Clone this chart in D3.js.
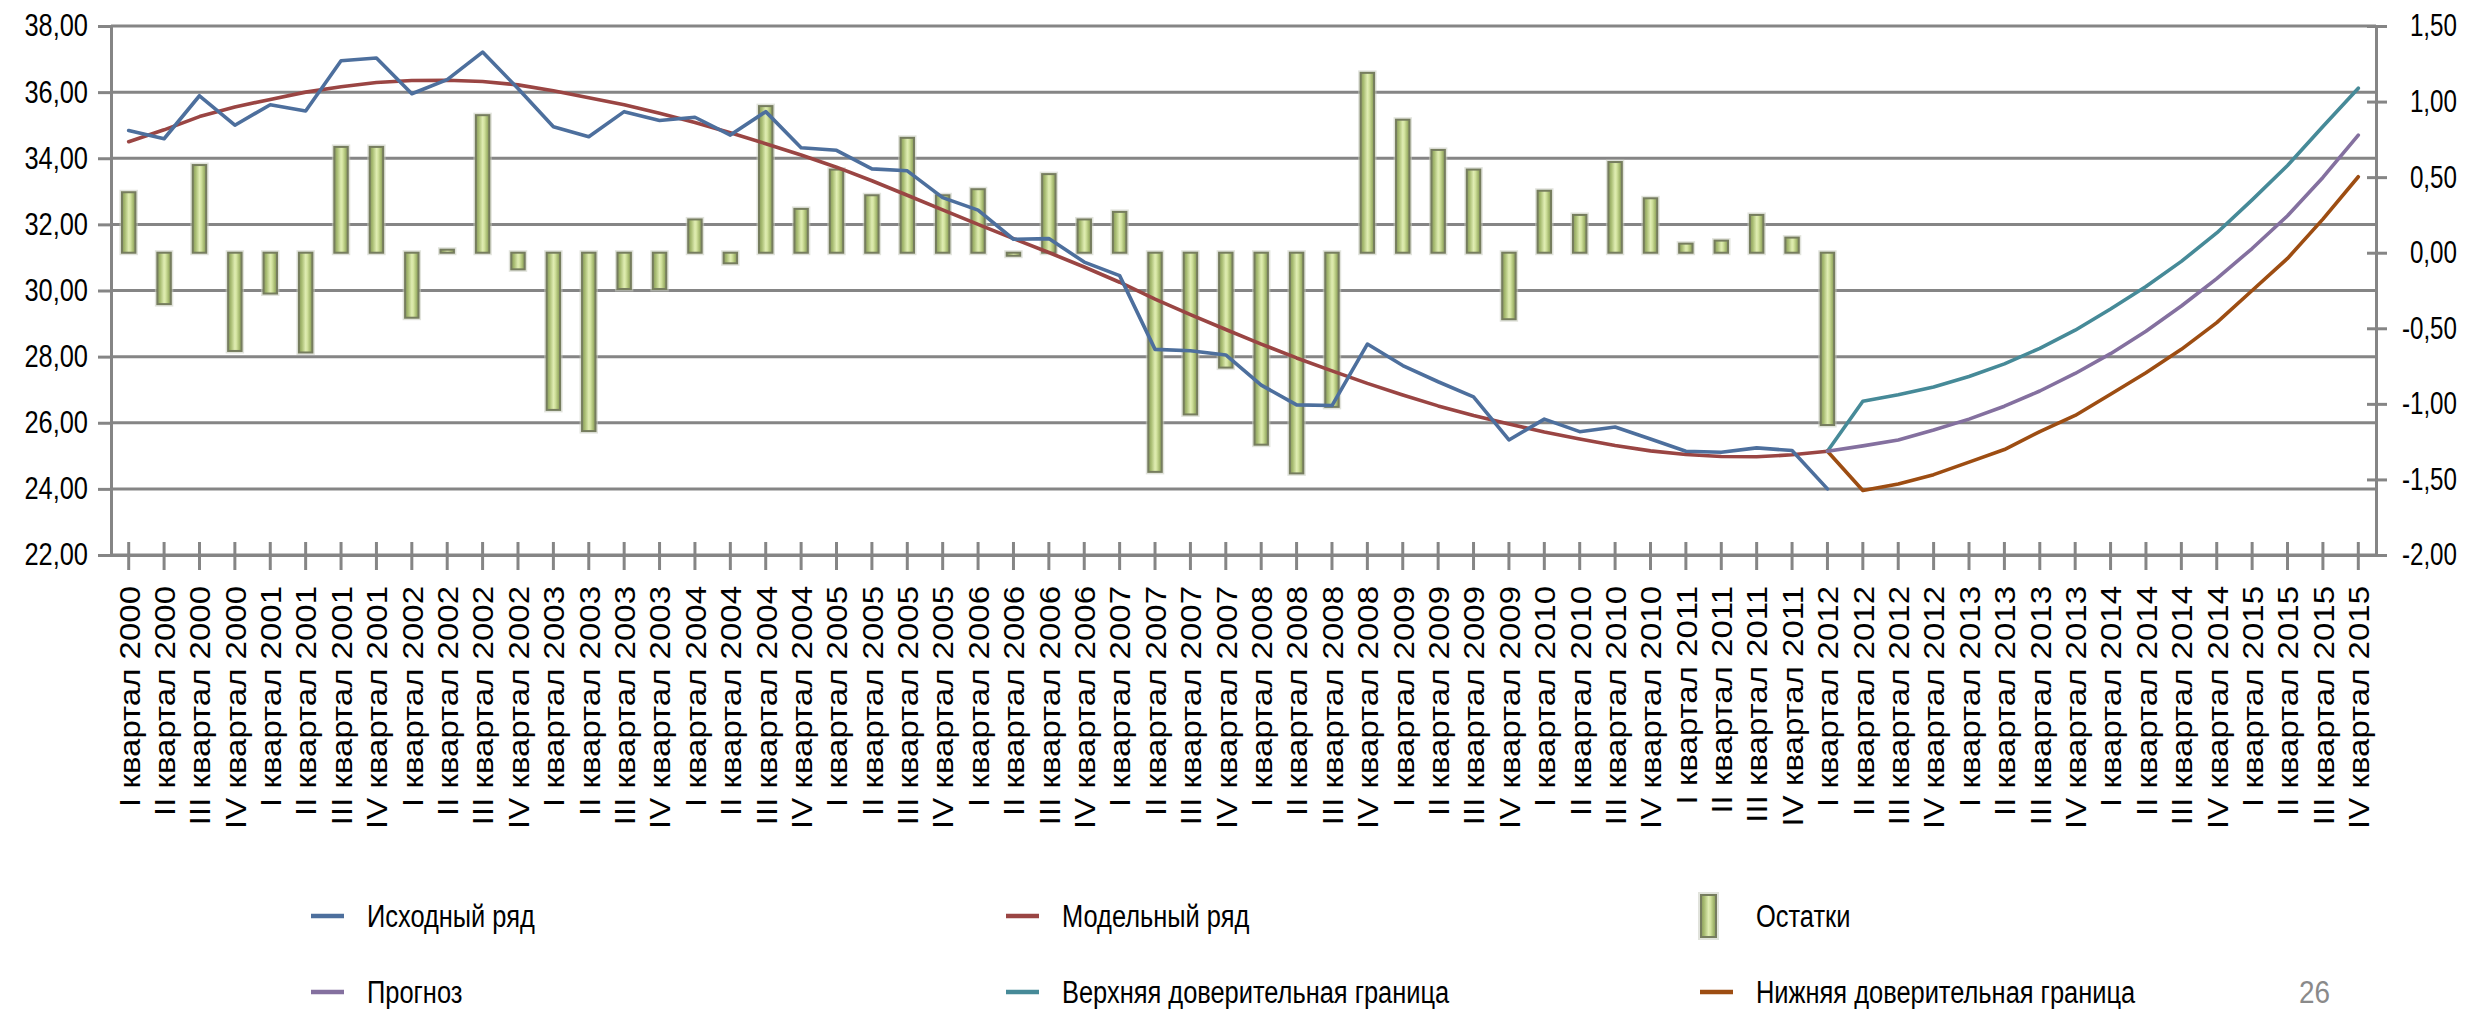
<!DOCTYPE html>
<html>
<head>
<meta charset="utf-8">
<script src="https://cdn.jsdelivr.net/npm/d3@7"></script>
<style>
  html, body { margin: 0; padding: 0; background: #ffffff; }
  svg { display: block; }
  text { font-family: "Liberation Sans", Arial, sans-serif; fill: #000; }
</style>
</head>
<body>
<svg id="chart" width="2476" height="1009"></svg>
<script>
// ---- categories: quarters 2000–2015 ----
const quarterNames = ["I", "II", "III", "IV"];
const years = [2000, 2001, 2002, 2003, 2004, 2005, 2006, 2007,
               2008, 2009, 2010, 2011, 2012, 2013, 2014, 2015];
const categories = years.flatMap(y => quarterNames.map(q => `${q} квартал ${y}`));

// ---- observed series (I кв. 2000 – I кв. 2012) ----
const original = [
  34.84, 34.59, 35.89, 35.00, 35.62, 35.43, 36.95, 37.03, 35.95, 36.38, 37.21, 36.11, 34.95,
  34.65, 35.41, 35.14, 35.24, 34.70, 35.41, 34.32, 34.24, 33.68, 33.62, 32.81, 32.43, 31.55,
  31.57, 30.86, 30.45, 28.22, 28.18, 28.05, 27.14, 26.54, 26.52, 28.38, 27.73, 27.24,
  26.78, 25.48, 26.11, 25.73, 25.87, 25.51, 25.14, 25.11, 25.24, 25.16, 24.00
];

// ---- fitted trend ----
const model = [
  34.50, 34.86, 35.26, 35.55, 35.78, 36.00, 36.16, 36.29, 36.35, 36.36, 36.32, 36.22, 36.04,
  35.83, 35.62, 35.36, 35.08, 34.77, 34.44, 34.10, 33.73, 33.32, 32.88, 32.44, 32.00, 31.57,
  31.15, 30.71, 30.25, 29.74, 29.27, 28.82, 28.38, 27.96, 27.57, 27.19, 26.84, 26.51,
  26.22, 25.96, 25.72, 25.51, 25.31, 25.15, 25.04, 24.98, 24.97, 25.03, 25.14
];

// ---- residuals (secondary axis) ----
const residuals = [
  0.40, -0.34, 0.58, -0.65, -0.27, -0.66, 0.70, 0.70, -0.43, 0.02, 0.91, -0.11, -1.04,
  -1.18, -0.24, -0.24, 0.22, -0.07, 0.97, 0.29, 0.55, 0.38, 0.76, 0.38, 0.42, -0.02,
  0.52, 0.22, 0.27, -1.45, -1.07, -0.76, -1.27, -1.46, -1.02, 1.19, 0.88, 0.68,
  0.55, -0.44, 0.41, 0.25, 0.60, 0.36, 0.06, 0.08, 0.25, 0.10, -1.14
];

// ---- forecast with confidence band (I кв. 2012 – IV кв. 2015) ----
const forecastStart = 48;
const forecast = [25.14, 25.30, 25.48, 25.78, 26.11, 26.50, 26.96, 27.49, 28.09, 28.77, 29.53, 30.36, 31.27, 32.26, 33.42, 34.70];
const upperBound = [25.14, 26.65, 26.85, 27.08, 27.40, 27.78, 28.25, 28.80, 29.44, 30.12, 30.88, 31.74, 32.74, 33.78, 34.96, 36.12];
const lowerBound = [25.14, 23.95, 24.15, 24.43, 24.81, 25.19, 25.73, 26.22, 26.86, 27.51, 28.22, 29.03, 30.00, 30.97, 32.16, 33.44];

// ---- axis ticks ----
const leftTicks = [22, 24, 26, 28, 30, 32, 34, 36, 38];
const rightTicks = [-2, -1.5, -1, -0.5, 0, 0.5, 1, 1.5];

const legendItems = [
  { label: "Исходный ряд", color: "#4d6f9d", type: "line", col: 0, row: 0 },
  { label: "Модельный ряд", color: "#9a4543", type: "line", col: 1, row: 0 },
  { label: "Остатки", color: null, type: "bar", col: 2, row: 0 },
  { label: "Прогноз", color: "#84709f", type: "line", col: 0, row: 1 },
  { label: "Верхняя доверительная граница", color: "#468a98", type: "line", col: 1, row: 1 },
  { label: "Нижняя доверительная граница", color: "#9d4d12", type: "line", col: 2, row: 1 }
];

// ---------------------------------------------------------------
const svg = d3.select("#chart");
const plot = { left: 111, right: 2376, top: 26, bottom: 555 };
const gridColor = "#858585";
const squeeze = 0.82;   // narrow face for horizontal text

const x = d3.scaleBand().domain(categories).range([plot.left, plot.right]).padding(0);
const cx = i => x(categories[i]) + x.bandwidth() / 2;
const yL = d3.scaleLinear().domain([22, 38]).range([plot.bottom, plot.top]);
const yR = d3.scaleLinear().domain([-2, 1.5]).range([plot.bottom, plot.top]);

const fmt = d3.formatLocale({ decimal: ",", thousands: " ", grouping: [3], currency: ["", ""], minus: "-" }).format(".2f");

function squish(sel, k) {
  sel.each(function () {
    const L = this.getComputedTextLength();
    this.setAttribute("textLength", (L * k).toFixed(1));
    this.setAttribute("lengthAdjust", "spacingAndGlyphs");
  });
}

// gradient for residual columns
const defs = svg.append("defs");
const grad = defs.append("linearGradient").attr("id", "barFill")
  .attr("x1", "0%").attr("x2", "100%").attr("y1", "0%").attr("y2", "0%");
[[0, "#87985a"], [0.22, "#a9bd73"], [0.5, "#dfecb2"], [0.62, "#d4e4a0"], [0.85, "#a2b66c"], [1, "#86975a"]]
  .forEach(([o, c]) => grad.append("stop").attr("offset", o).attr("stop-color", c));

// horizontal gridlines
svg.append("g").selectAll("line").data(leftTicks).join("line")
  .attr("x1", plot.left).attr("x2", plot.right)
  .attr("y1", d => yL(d)).attr("y2", d => yL(d))
  .attr("stroke", gridColor).attr("stroke-width", 3);

// left axis
const gLeft = svg.append("g").attr("transform", `translate(${plot.left},0)`)
  .call(d3.axisLeft(yL).tickValues(leftTicks).tickFormat(fmt).tickSize(13).tickPadding(10));
gLeft.select(".domain").attr("stroke", gridColor).attr("stroke-width", 3);
gLeft.selectAll(".tick line").attr("stroke", gridColor).attr("stroke-width", 3);
gLeft.selectAll(".tick text").attr("font-size", 31).attr("fill", "#000")
  .attr("font-family", "Liberation Sans, Arial, sans-serif").call(squish, squeeze);

// right axis (residual scale)
const gRight = svg.append("g").attr("transform", `translate(${plot.right},0)`)
  .call(d3.axisRight(yR).tickValues(rightTicks).tickFormat(fmt).tickSizeInner(9).tickSizeOuter(0).tickPadding(0));
gRight.select(".domain").attr("stroke", gridColor).attr("stroke-width", 3);
gRight.selectAll(".tick line").attr("x1", -9).attr("x2", 11).attr("stroke", gridColor).attr("stroke-width", 3);
gRight.selectAll(".tick text").attr("font-size", 31).attr("fill", "#000")
  .attr("font-family", "Liberation Sans, Arial, sans-serif")
  .attr("text-anchor", "end").attr("x", 81).call(squish, 0.78);

// bottom axis with category labels
const gBottom = svg.append("g").attr("transform", `translate(0,${plot.bottom})`)
  .call(d3.axisBottom(x).tickSizeInner(15).tickSizeOuter(0).tickPadding(0));
gBottom.select(".domain").attr("stroke", gridColor).attr("stroke-width", 3);
gBottom.selectAll(".tick line").attr("y1", -13).attr("y2", 15).attr("stroke", gridColor).attr("stroke-width", 3);
gBottom.selectAll(".tick text")
  .attr("font-size", 30).attr("fill", "#000")
  .attr("font-family", "Liberation Sans, Arial, sans-serif")
  .attr("text-anchor", "end")
  .attr("transform", "rotate(-90)")
  .attr("x", -31).attr("y", 0).attr("dy", "0.36em")
  .call(squish, 1.1);

// residual columns
const barW = x.bandwidth() * 0.38;
const gBars = svg.append("g");
gBars.selectAll("rect.halo").data(residuals).join("rect").attr("class", "halo")
  .attr("x", (d, i) => cx(i) - barW / 2 - 2.5)
  .attr("y", d => Math.min(yR(d), yR(0)) - 2.5)
  .attr("width", barW + 5)
  .attr("height", d => Math.abs(yR(d) - yR(0)) + 5)
  .attr("fill", "#c9ccc0").attr("opacity", 0.55);
gBars.selectAll("rect.bar").data(residuals).join("rect").attr("class", "bar")
  .attr("x", (d, i) => cx(i) - barW / 2)
  .attr("y", d => Math.min(yR(d), yR(0)))
  .attr("width", barW)
  .attr("height", d => Math.max(2, Math.abs(yR(d) - yR(0))))
  .attr("fill", "url(#barFill)")
  .attr("stroke", "#767d5e").attr("stroke-width", 2);

// lines
function drawLine(values, offset, color) {
  const line = d3.line().x((d, i) => cx(i + offset)).y(d => yL(d));
  svg.append("path").datum(values).attr("d", line)
    .attr("fill", "none").attr("stroke", color).attr("stroke-width", 3.6)
    .attr("stroke-linejoin", "round").attr("stroke-linecap", "round");
}
drawLine(model, 0, "#9a4543");
drawLine(original, 0, "#4d6f9d");
drawLine(upperBound, forecastStart, "#468a98");
drawLine(lowerBound, forecastStart, "#9d4d12");
drawLine(forecast, forecastStart, "#84709f");

// legend
const legendCols = [311, 1006, 1700];
const legendRows = [916, 992];
const gLegend = svg.append("g");
legendItems.forEach(item => {
  const lx = legendCols[item.col], ly = legendRows[item.row];
  if (item.type === "line") {
    gLegend.append("line").attr("x1", lx).attr("x2", lx + 33).attr("y1", ly).attr("y2", ly)
      .attr("stroke", item.color).attr("stroke-width", 4.5);
  } else {
    gLegend.append("rect").attr("x", lx - 2).attr("y", ly - 24).attr("width", 21).attr("height", 48)
      .attr("fill", "#c9ccc0").attr("opacity", 0.55);
    gLegend.append("rect").attr("x", lx + 1).attr("y", ly - 21).attr("width", 15).attr("height", 42)
      .attr("fill", "url(#barFill)").attr("stroke", "#767d5e").attr("stroke-width", 2);
  }
  gLegend.append("text").attr("x", lx + 56).attr("y", ly).attr("dy", "0.36em")
    .attr("font-size", 31).text(item.label).call(squish, squeeze);
});

// slide number
svg.append("text").attr("x", 2299).attr("y", 992).attr("dy", "0.36em")
  .attr("font-size", 31).attr("fill", "#8a8a8a").style("fill", "#8a8a8a")
  .text("26").call(squish, 0.9);
</script>
</body>
</html>
